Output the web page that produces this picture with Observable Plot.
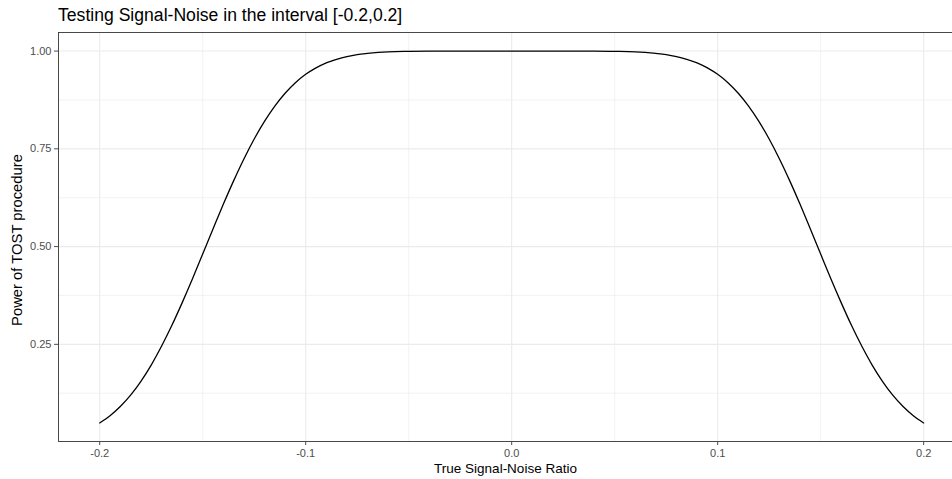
<!DOCTYPE html>
<html>
<head>
<meta charset="utf-8">
<script src="https://cdn.jsdelivr.net/npm/d3@7"></script>
<script src="https://cdn.jsdelivr.net/npm/@observablehq/plot@0.6"></script>
<style>
  html, body { margin: 0; padding: 0; background: #fff; width: 952px; height: 479px; overflow: hidden; }
  #title { position: absolute; left: 58px; top: 7px; font: 17.6px/1 "Liberation Sans", Arial, sans-serif; color: #000; white-space: nowrap; }
  #chart { position: absolute; left: 0; top: 28px; }
</style>
</head>
<body>
<div id="title">Testing Signal-Noise in the interval [-0.2,0.2]</div>
<div id="chart"></div>
<script>
// True signal-noise ratio (x) and power of the TOST procedure (y)
const snr = [-0.2, -0.195, -0.19, -0.185, -0.18, -0.175, -0.17, -0.165, -0.16, -0.155, -0.15, -0.145, -0.14, -0.135,
             -0.13, -0.125, -0.12, -0.115, -0.11, -0.105, -0.1, -0.095, -0.09, -0.085, -0.08, -0.075, -0.07, -0.06,
             -0.05, -0.04, -0.03, -0.02, -0.01, 0, 0.01, 0.02, 0.03, 0.04, 0.05, 0.06, 0.07, 0.075, 0.08, 0.085, 0.09,
             0.095, 0.1, 0.105, 0.11, 0.115, 0.12, 0.125, 0.13, 0.135, 0.14, 0.145, 0.15, 0.155, 0.16, 0.165, 0.17,
             0.175, 0.18, 0.185, 0.19, 0.195, 0.2];
const power = [0.049, 0.0675, 0.091, 0.120, 0.1555, 0.197, 0.245, 0.298, 0.356, 0.417, 0.481, 0.545, 0.608, 0.668,
               0.724, 0.775, 0.820, 0.859, 0.892, 0.919, 0.9405, 0.957, 0.970, 0.979, 0.986, 0.991, 0.994, 0.998,
               0.9992, 0.9998, 1.0, 1.0, 1.0, 1.0, 1.0, 1.0, 1.0, 0.9998, 0.9992, 0.998, 0.994, 0.991, 0.986, 0.979, 0.970,
               0.957, 0.9405, 0.919, 0.892, 0.859, 0.820, 0.775, 0.724, 0.668, 0.608, 0.545, 0.481, 0.417, 0.356, 0.298, 0.245,
               0.197, 0.1555, 0.120, 0.091, 0.0675, 0.049];

const xTicks = [-0.2, -0.1, 0, 0.1, 0.2];
const xTickLabels = ["-0.2", "-0.1", "0.0", "0.1", "0.2"];
const xMinor = [-0.15, -0.05, 0.05, 0.15];
const yTicks = [0.25, 0.5, 0.75, 1.0];
const yTickLabels = ["0.25", "0.50", "0.75", "1.00"];
const yMinor = [0.125, 0.375, 0.625, 0.875];
const xDomain = [-0.22, 0.214];
const yDomain = [0.0015, 1.0475];

const data = snr.map((x, i) => ({x, y: power[i]}));
const xLab = new Map(xTicks.map((t, i) => [t, xTickLabels[i]]));
const yLab = new Map(yTicks.map((t, i) => [t, yTickLabels[i]]));

const chart = Plot.plot({
  width: 952,
  height: 451,
  marginTop: 4,
  marginBottom: 38,
  marginLeft: 58,
  marginRight: 0,
  style: {fontFamily: "'Liberation Sans', Arial, sans-serif", background: "#fff"},
  x: {domain: xDomain},
  y: {domain: yDomain},
  marks: [
    Plot.ruleX(xMinor, {stroke: "#ebebeb", strokeWidth: 0.6}),
    Plot.ruleY(yMinor, {stroke: "#ebebeb", strokeWidth: 0.6}),
    Plot.ruleX(xTicks, {stroke: "#ebebeb", strokeWidth: 1.1}),
    Plot.ruleY(yTicks, {stroke: "#ebebeb", strokeWidth: 1.1}),
    Plot.line(data, {x: "x", y: "y", stroke: "#000", strokeWidth: 1.3, curve: "monotone-x"}),
    Plot.ruleX([xDomain[0]], {stroke: "#333", strokeWidth: 0.9}),
    Plot.ruleY([yDomain[0], yDomain[1]], {stroke: "#333", strokeWidth: 0.9}),
    Plot.axisX(xTicks, {anchor: "bottom", tickSize: 4, tickPadding: 4, tickFormat: d => xLab.get(d), color: "#4d4d4d", fontSize: 11, label: null}),
    Plot.axisY(yTicks, {anchor: "left", tickSize: 4, tickPadding: 3, tickFormat: d => yLab.get(d), color: "#4d4d4d", fontSize: 11, label: null}),
    Plot.text(["True Signal-Noise Ratio"], {frameAnchor: "bottom", dy: 27, textAnchor: "middle", lineAnchor: "middle", fontSize: 13.5, fill: "#000"}),
    Plot.text(["Power of TOST procedure"], {frameAnchor: "left", dx: -41, dy: 3, rotate: -90, textAnchor: "middle", lineAnchor: "middle", fontSize: 14.8, fill: "#000"})
  ]
});
document.getElementById("chart").appendChild(chart);
</script>
</body>
</html>
